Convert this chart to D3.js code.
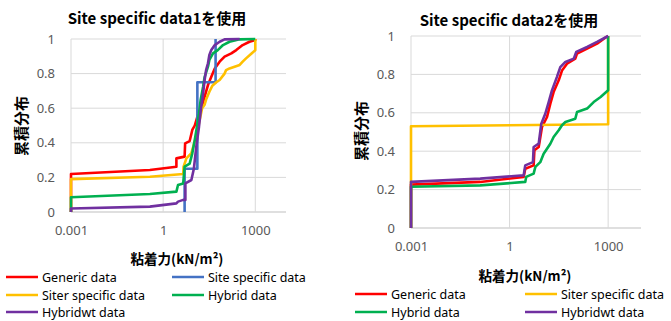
<!DOCTYPE html>
<html>
<head>
<meta charset="utf-8">
<script src="https://cdn.jsdelivr.net/npm/d3@7"></script>
<style>
  body { margin: 0; background: #fff; }
  text { font-family: "Noto Sans CJK JP", "Noto Sans", sans-serif; }
</style>
</head>
<body>
<div id="grafica"></div>
<script>
// ---- data ----
var xTicks = [0.001, 1, 1000];
var yTicks = [0, 0.2, 0.4, 0.6, 0.8, 1];

// panel 1 (Site specific data1)
var gen1X = [0.001, 0.001, 0.37, 2.7, 2.7, 5.0, 5.2, 7.3, 8.9, 10.7, 13.5, 17.4, 22.4, 28.8, 37, 48, 69, 100, 166, 240, 389, 646, 1000, 1000];
var gen1Y = [0, 0.22, 0.243, 0.262, 0.31, 0.32, 0.397, 0.41, 0.474, 0.50, 0.56, 0.60, 0.667, 0.734, 0.782, 0.83, 0.869, 0.898, 0.917, 0.936, 0.965, 0.984, 0.994, 1];
var site1X = [5, 5, 13, 13, 51, 51];
var site1Y = [0, 0.25, 0.25, 0.75, 0.75, 1];
var siter1X = [0.001, 0.001, 0.37, 4.5, 4.6, 5.7, 8.3, 12, 15, 18.6, 22.4, 25, 32, 40, 54, 69, 100, 112, 145, 310, 389, 500, 740, 1000, 1000];
var siter1Y = [0, 0.19, 0.204, 0.22, 0.26, 0.31, 0.34, 0.44, 0.52, 0.60, 0.62, 0.65, 0.695, 0.73, 0.75, 0.763, 0.80, 0.82, 0.83, 0.85, 0.869, 0.888, 0.915, 0.935, 1];
var hyb1X = [0.001, 0.001, 0.37, 2.7, 3.05, 4.5, 5.0, 7.3, 8.9, 10.7, 12.6, 14.7, 16.6, 20, 22.4, 28.8, 32, 42, 60, 89, 145, 310, 1000];
var hyb1Y = [0, 0.085, 0.104, 0.118, 0.156, 0.165, 0.262, 0.28, 0.339, 0.416, 0.493, 0.57, 0.647, 0.724, 0.78, 0.84, 0.879, 0.917, 0.936, 0.965, 0.984, 0.998, 1];
var hybw1X = [0.001, 0.001, 0.37, 2.7, 3.05, 4.5, 5.3, 5.3, 8.3, 10, 12, 14.7, 17.4, 20, 22.4, 25, 28.8, 32, 37, 48, 69, 100, 310];
var hybw1Y = [0, 0.02, 0.031, 0.05, 0.06, 0.07, 0.07, 0.166, 0.185, 0.25, 0.378, 0.493, 0.61, 0.686, 0.763, 0.82, 0.86, 0.907, 0.936, 0.965, 0.984, 0.998, 1];

// panel 2 (Site specific data2)
var gen2X = [0.001, 0.001, 0.128, 2.68, 3.0, 5.4, 5.7, 7.7, 9.7, 13.8, 17.4, 21.9, 31.3, 39.4, 56, 100, 113, 229, 460, 741, 1000];
var gen2Y = [0, 0.226, 0.24, 0.266, 0.309, 0.326, 0.405, 0.422, 0.526, 0.578, 0.648, 0.708, 0.769, 0.82, 0.856, 0.882, 0.908, 0.934, 0.96, 0.986, 1];
var siter2X = [0.001, 0.001, 1000, 1000];
var siter2Y = [0, 0.53, 0.54, 1];
var hyb2X = [0.001, 0.001, 0.128, 3.0, 3.2, 5.4, 6.1, 8.6, 10.9, 17.4, 21.9, 31.3, 39.4, 50, 100, 113, 229, 363, 590, 1000, 1000];
var hyb2Y = [0, 0.215, 0.222, 0.24, 0.266, 0.283, 0.318, 0.343, 0.387, 0.439, 0.474, 0.509, 0.535, 0.552, 0.569, 0.604, 0.622, 0.656, 0.682, 0.717, 1];
var hybw2X = [0.001, 0.001, 0.128, 2.68, 3.0, 5.15, 5.4, 7.7, 9.25, 12.2, 15.5, 19.5, 27.5, 35, 50, 90, 107, 229, 460, 1000];
var hybw2Y = [0, 0.24, 0.257, 0.274, 0.326, 0.343, 0.422, 0.439, 0.543, 0.595, 0.656, 0.717, 0.786, 0.838, 0.865, 0.882, 0.917, 0.943, 0.969, 1];

var red = "#FF0000", blue = "#4472C4", yellow = "#FFC000", green = "#00B050", purple = "#7030A0";

var svg = d3.select("#grafica")
  .append("svg")
    .attr("width", 671)
    .attr("height", 321);

function zip(xs, ys) {
  return xs.map(function(v, i) { return [v, ys[i]]; });
}

function panel(p) {
  var x = d3.scaleLog().domain([0.001, 10000]).range([p.left, p.right]);
  var y = d3.scaleLinear().domain([0, 1]).range([p.bottom, p.top]);
  var g = svg.append("g");

  // gridlines
  g.append("g")
    .selectAll("line").data(yTicks).enter().append("line")
      .attr("x1", p.left).attr("x2", p.right)
      .attr("y1", function(d) { return y(d); })
      .attr("y2", function(d) { return y(d); })
      .attr("stroke", function(d) { return d === 0 ? "#BFBFBF" : "#D9D9D9"; })
      .attr("stroke-width", 1);
  g.append("g")
    .selectAll("line").data(xTicks).enter().append("line")
      .attr("x1", function(d) { return x(d); })
      .attr("x2", function(d) { return x(d); })
      .attr("y1", p.top).attr("y2", p.bottom)
      .attr("stroke", "#D9D9D9")
      .attr("stroke-width", 1);

  // axes (labels only)
  var yAxis = g.append("g")
    .attr("transform", "translate(" + (p.left - 13) + ",0)")
    .call(d3.axisLeft(y).tickValues(yTicks).tickSize(0).tickFormat(d3.format("~g")));
  var xAxis = g.append("g")
    .attr("transform", "translate(0," + (p.bottom + 11) + ")")
    .call(d3.axisBottom(x).tickValues(xTicks).tickSize(0).tickFormat(function(d) { return String(d); }));
  [xAxis, yAxis].forEach(function(a) {
    a.select(".domain").remove();
    a.selectAll("text")
      .style("font-family", "'Noto Sans', sans-serif")
      .style("font-size", "13px")
      .attr("fill", "#595959");
  });

  var line = d3.line()
    .x(function(d) { return x(d[0]); })
    .y(function(d) { return y(d[1]); });

  p.series.forEach(function(s) {
    g.append("path")
      .datum(zip(s.xs, s.ys))
      .attr("fill", "none")
      .attr("stroke", s.color)
      .attr("stroke-width", 2.6)
      .attr("stroke-linejoin", "round")
      .attr("d", line);
  });

  // titles
  g.append("text")
    .attr("x", p.titleX).attr("y", p.titleY)
    .attr("text-anchor", "middle")
    .style("font-size", "15px").style("font-weight", "bold")
    .text(p.title);
  g.append("text")
    .attr("transform", "translate(" + p.yLabX + "," + p.yLabY + ") rotate(-90)")
    .attr("text-anchor", "middle")
    .attr("dominant-baseline", "central")
    .style("font-size", "15px").style("font-weight", "bold")
    .text("累積分布");
  g.append("text")
    .attr("x", p.xLabX).attr("y", p.xLabY)
    .attr("text-anchor", "middle")
    .attr("dominant-baseline", "central")
    .style("font-size", "13.5px").style("font-weight", "bold")
    .text("粘着力(kN/m²)");

  // legend
  p.legend.forEach(function(l) {
    g.append("line")
      .attr("x1", l.x).attr("x2", l.x + 32)
      .attr("y1", l.y).attr("y2", l.y)
      .attr("stroke", l.color).attr("stroke-width", 2.5);
    g.append("text")
      .attr("x", l.x + 36).attr("y", l.y)
      .attr("dominant-baseline", "central")
      .style("font-family", "'Noto Sans', sans-serif")
      .style("font-size", "12.5px")
      .attr("fill", "#000")
      .text(l.name);
  });
}

panel({
  left: 71, right: 286, top: 39, bottom: 212,
  title: "Site specific data1を使用", titleX: 157, titleY: 24,
  yLabX: 20, yLabY: 126, xLabX: 177, xLabY: 258,
  series: [
    { xs: gen1X, ys: gen1Y, color: red },
    { xs: site1X, ys: site1Y, color: blue },
    { xs: siter1X, ys: siter1Y, color: yellow },
    { xs: hyb1X, ys: hyb1Y, color: green },
    { xs: hybw1X, ys: hybw1Y, color: purple }
  ],
  legend: [
    { name: "Generic data", color: red, x: 6, y: 277 },
    { name: "Site specific data", color: blue, x: 172, y: 277 },
    { name: "Siter specific data", color: yellow, x: 6, y: 295 },
    { name: "Hybrid data", color: green, x: 172, y: 295 },
    { name: "Hybridwt data", color: purple, x: 6, y: 312 }
  ]
});

panel({
  left: 411, right: 641, top: 36, bottom: 228,
  title: "Site specific data2を使用", titleX: 509, titleY: 26,
  yLabX: 360, yLabY: 131, xLabX: 525, xLabY: 275,
  series: [
    { xs: gen2X, ys: gen2Y, color: red },
    { xs: siter2X, ys: siter2Y, color: yellow },
    { xs: hyb2X, ys: hyb2Y, color: green },
    { xs: hybw2X, ys: hybw2Y, color: purple }
  ],
  legend: [
    { name: "Generic data", color: red, x: 355, y: 294 },
    { name: "Siter specific data", color: yellow, x: 525, y: 294 },
    { name: "Hybrid data", color: green, x: 355, y: 312 },
    { name: "Hybridwt data", color: purple, x: 525, y: 312 }
  ]
});
</script>
</body>
</html>
